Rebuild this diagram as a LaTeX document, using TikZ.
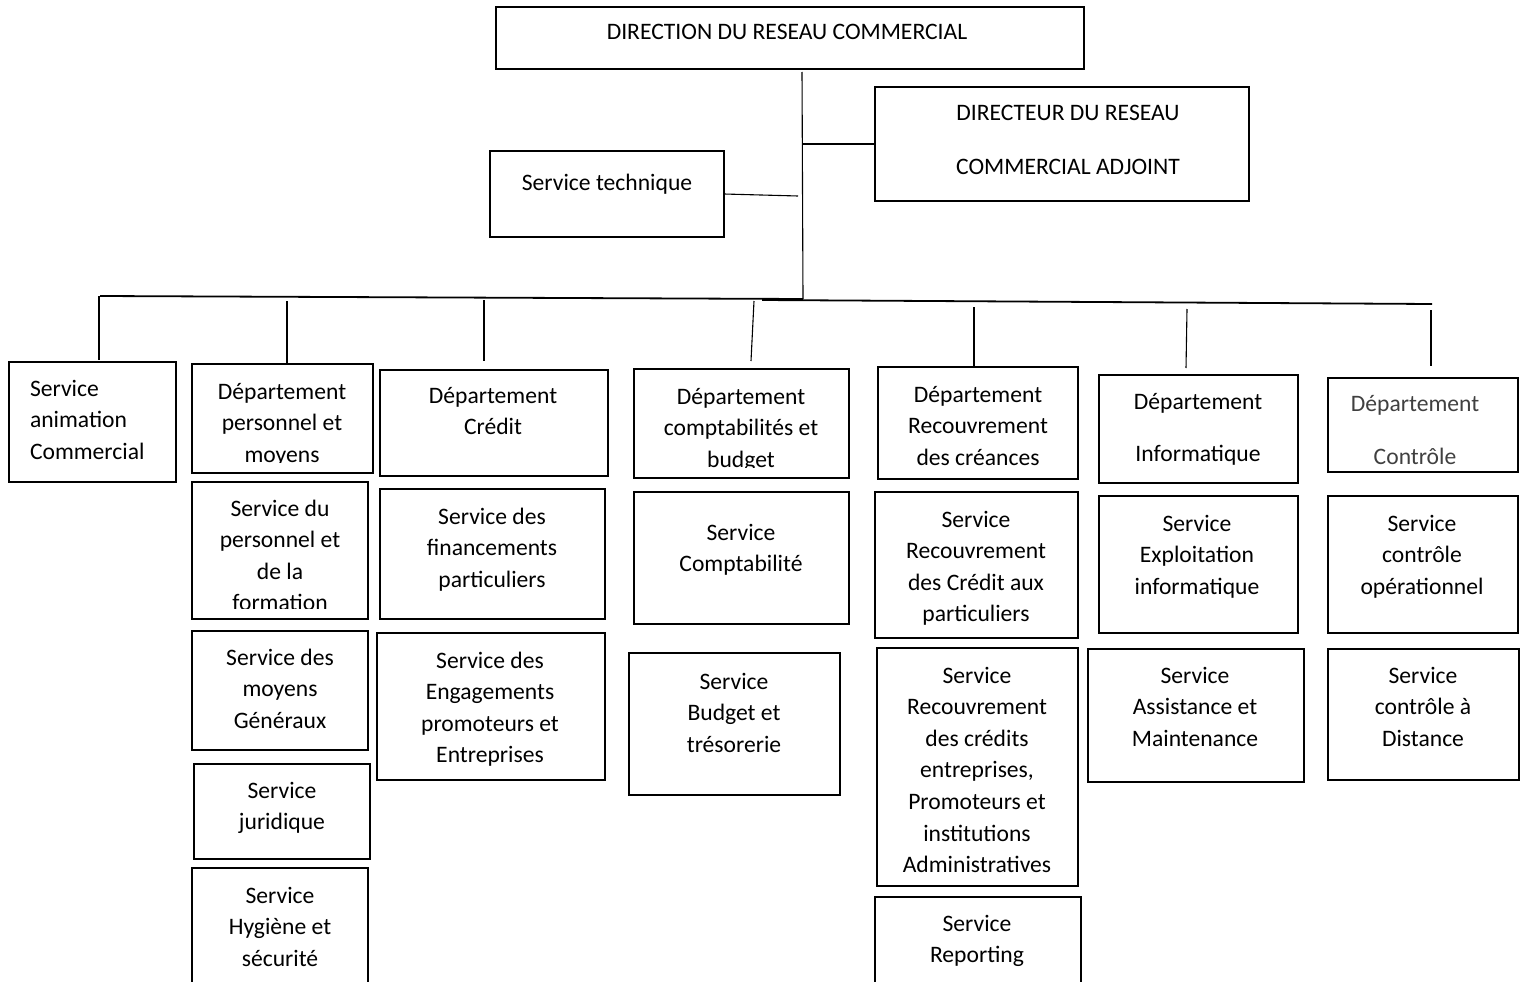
\documentclass[tikz,border=0pt]{standalone}
\usepackage{fontspec}
\setmainfont{Carlito}
\usetikzlibrary{calc}
\definecolor{softink}{HTML}{404040}
\tikzset{
  box/.style={draw, line width=2.6pt, inner sep=0pt, outer sep=0pt, rectangle},
  link/.style={line width=1.1pt},
  linkthick/.style={line width=1.8pt},
  boxtext/.style={inner sep=0pt, outer sep=0pt, font=\fontsize{23.6}{31.6}\selectfont},
  ctext/.style={boxtext, align=center, anchor=north},
  ltext/.style={boxtext, align=left, anchor=north west},
}
% bottom margin inside a box below which text is hidden
\def\textgap{11}
% #1 name, #2-#5 corners (x1,y1,x2,y2), #6,#7 centre of the first line, #8 text style, #9 text
\newcommand\orgbox[9]{%
  \node[box, anchor=north west, minimum width={(#4-#2)*1pt}, minimum height={(#5-#3)*1pt}] (#1) at (#2,#3) {};
  \begin{scope}
    \clip ([shift={(3pt,-3pt)}]#1.north west) rectangle ([shift={(-3pt,\textgap pt)}]#1.south east);
    \node[#8] (#1-txt) at (#6,#7-12) {\rule{0pt}{20pt}#9};
  \end{scope}}
\begin{document}
\begin{tikzpicture}[x=1pt, y=-1pt]
\useasboundingbox (0,0) rectangle (1528,982);

% top level
\orgbox{dir}{496}{7}{1084}{69}{787}{32}{ctext}{DIRECTION DU RESEAU COMMERCIAL}
\orgbox{adj}{875}{87}{1249}{201}{1068}{112}{ctext}{DIRECTEUR DU RESEAU\\[22.4pt]COMMERCIAL ADJOINT}
\orgbox{tech}{490}{151}{724}{237}{607}{182}{ctext}{Service technique}

% departments
\orgbox{anim}{9}{362}{176}{482}{30}{388}{ltext}{Service\\animation\\Commercial}
\orgbox{dpers}{192}{364}{373}{473}{282}{391}{ctext}{Département\\personnel et\\moyens}
\orgbox{dcred}{380}{370}{608}{476}{493}{395}{ctext}{Département\\Crédit}
\orgbox{dcompta}{634}{369}{849}{478}{741}{396}{ctext}{Département\\comptabilités et\\budget}
\orgbox{drec}{878}{367}{1078}{479}{978}{394}{ctext}{Département\\Recouvrement\\des créances}
\orgbox{dinfo}{1099}{375}{1298}{483}{1198}{401}{ctext}{Département\\[20.4pt]Informatique}
\def\textgap{3}
\orgbox{dctrl}{1328}{378}{1518}{472}{1415}{403}{ctext,text=softink}{Département\\[21.4pt]Contrôle}
\def\textgap{11}

% services
\orgbox{spers}{192}{482}{368}{619}{280}{508}{ctext}{Service du\\personnel et\\de la\\formation}
\orgbox{smoy}{192}{631}{368}{750}{280}{657}{ctext}{Service des\\moyens\\Généraux}
\orgbox{sjur}{194}{764}{370}{859}{282}{790}{ctext}{Service\\juridique}
\orgbox{shyg}{192}{868}{368}{986}{280}{895}{ctext}{Service\\Hygiène et\\sécurité}
\orgbox{sfin}{380}{489}{605}{619}{492}{516}{ctext}{Service des\\financements\\particuliers}
\orgbox{seng}{377}{633}{605}{780}{490}{660}{ctext}{Service des\\Engagements\\promoteurs et\\Entreprises}
\orgbox{scompta}{634}{492}{849}{624}{741}{532}{ctext}{Service\\Comptabilité}
\orgbox{sbud}{629}{653}{840}{795}{734}{681}{ctext}{Service\\Budget et\\trésorerie}
\orgbox{srecp}{875}{492}{1078}{638}{976}{519}{ctext}{Service\\Recouvrement\\des Crédit aux\\particuliers}
\orgbox{sreco}{877}{648}{1078}{886}{977}{675}{ctext}{Service\\Recouvrement\\des crédits\\entreprises,\\Promoteurs et\\institutions\\Administratives}
\orgbox{srep}{875}{897}{1081}{986}{977}{923}{ctext}{Service\\Reporting}
\orgbox{sexp}{1099}{496}{1298}{633}{1197}{523}{ctext}{Service\\Exploitation\\informatique}
\orgbox{sass}{1088}{649}{1304}{782}{1195}{675}{ctext}{Service\\Assistance et\\Maintenance}
\orgbox{sop}{1328}{496}{1518}{633}{1422}{523}{ctext}{Service\\contrôle\\opérationnel}
\orgbox{sdist}{1328}{649}{1519}{780}{1423}{675}{ctext}{Service\\contrôle à\\Distance}

% trunk and branches
\coordinate (trunktop) at (802,72);
\coordinate (trunkbot) at (803,299);
\coordinate (techend) at (798,196);
\draw[link] (trunktop) -- (trunkbot);
\draw[linkthick] (trunktop |- adj.west) -- (adj.west);
\draw[link] (tech.east) -- (techend);

% horizontal bus
\coordinate (busA) at (100,296);
\coordinate (busB) at (762,300);
\coordinate (busC) at (1432,304);
\draw[linkthick] (busA) -- (trunkbot);
\draw[linkthick] (busB) -- (busC);

% drops to the departments
\coordinate (d1) at (99,296);
\coordinate (d2) at (287,301);
\coordinate (d3) at (484,300);
\coordinate (d4) at (754,301);
\coordinate (d5) at (974,307);
\coordinate (d6) at (1187,309);
\coordinate (d7) at (1431,310);
\draw[link] (d1) -- ([yshift=2pt]d1 |- anim.north);
\draw[link] (d2) -- (d2 |- dpers.north);
\draw[link] (d3) -- ([yshift=9pt]d3 |- dcred.north);
\draw[link] (d4) -- ([xshift=-3pt,yshift=8pt]d4 |- dcompta.north);
\draw[link] (d5) -- ([yshift=1pt]d5 |- drec.north);
\draw[link] (d6) -- ([xshift=-1pt,yshift=7pt]d6 |- dinfo.north);
\draw[link] (d7) -- ([yshift=12pt]d7 |- dctrl.north);
\end{tikzpicture}
\end{document}
